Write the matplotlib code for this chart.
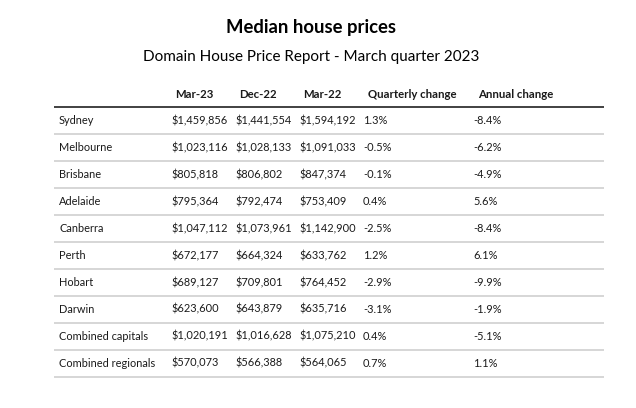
import matplotlib
matplotlib.use('Agg')
import matplotlib.pyplot as plt

# Data
cities = ['Sydney', 'Melbourne', 'Brisbane', 'Adelaide', 'Canberra', 'Perth',
          'Hobart', 'Darwin', 'Combined capitals', 'Combined regionals']
mar23 = [1459856, 1023116, 805818, 795364, 1047112, 672177, 689127, 623600, 1020191, 570073]
dec22 = [1441554, 1028133, 806802, 792474, 1073961, 664324, 709801, 643879, 1016628, 566388]
mar22 = [1594192, 1091033, 847374, 753409, 1142900, 633762, 764452, 635716, 1075210, 564065]
quarterly = [1.3, -0.5, -0.1, 0.4, -2.5, 1.2, -2.9, -3.1, 0.4, 0.7]
annual = [-8.4, -6.2, -4.9, 5.6, -8.4, 6.1, -9.9, -1.9, -5.1, 1.1]
headers = ['Mar-23', 'Dec-22', 'Mar-22', 'Quarterly change', 'Annual change']

title = 'Median house prices'
subtitle = 'Domain House Price Report - March quarter 2023'

# Layout (pixels)
W, H = 636, 408
col_x = [59, 171, 235, 299, 363, 473]
head_x = [175, 239, 303, 368, 478]
row0_y = 121
row_h = 26.9
head_y = 94
line_x0, line_x1 = 54, 604
txt_col = '#1a1a1a'
font = 'Lato'

fig = plt.figure(figsize=(W / 100, H / 100), dpi=100)
ax = fig.add_axes([0, 0, 1, 1])
ax.set_xlim(0, W)
ax.set_ylim(H, 0)
ax.axis('off')

ax.text(311, 28, title, ha='center', va='center', fontsize=13.3,
        fontweight='bold', family=font, color='black')
ax.text(311, 57, subtitle, ha='center', va='center', fontsize=11,
        family=font, color='black')

for hx, h in zip(head_x, headers):
    ax.text(hx, head_y, h, ha='left', va='center', fontsize=8.2,
            fontweight='bold', family=font, color=txt_col)

ax.hlines(head_y + 13, line_x0, line_x1, color='#333333', lw=1.3)

for i, c in enumerate(cities):
    y = row0_y + i * row_h
    cells = [c, f'${mar23[i]:,}', f'${dec22[i]:,}', f'${mar22[i]:,}',
             f'{quarterly[i]:.1f}%', f'{annual[i]:.1f}%']
    for x, s in zip(col_x, cells):
        ax.text(x, y, s, ha='left', va='center', fontsize=7.9, family=font,
                color=txt_col)
    ax.hlines(y + 13.4, line_x0, line_x1, color='#d0d0d0', lw=1.2)

fig.savefig('out.png', dpi=100, facecolor='white')
